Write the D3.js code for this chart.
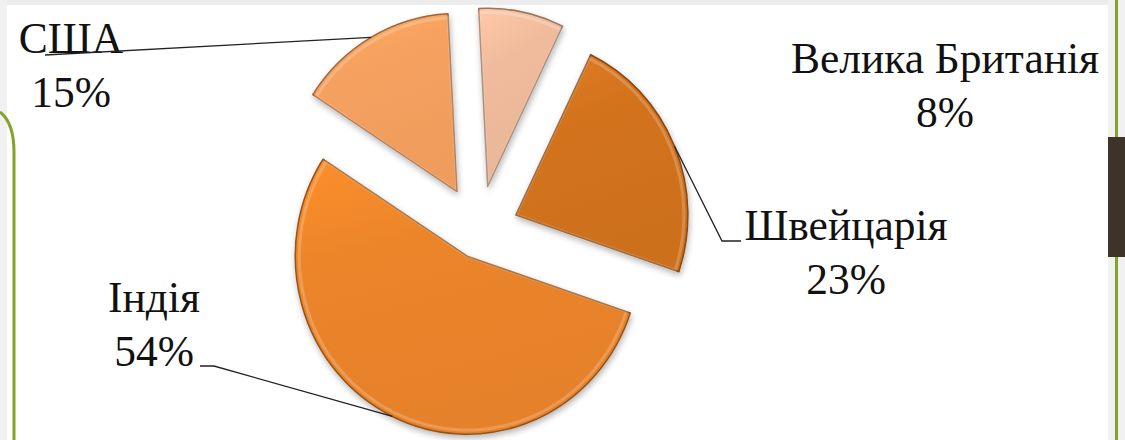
<!DOCTYPE html>
<html>
<head>
<meta charset="utf-8">
<script src="https://cdn.jsdelivr.net/npm/d3@7"></script>
<style>
  html, body { margin: 0; padding: 0; background: #fff; }
  svg { display: block; }
</style>
</head>
<body>
<div id="chart"></div>
<script>
// data
const countries = ["Велика Британія", "Швейцарія", "Індія", "США"];
const shares = [8, 23, 54, 15];
const sliceColors = ["#f0bb9c", "#d3731f", "#ec852a", "#f6a15f"];

let svgWidth = 1125;
let svgHeight = 440;

let svg = d3.select("#chart")
  .append("svg")
  .attr("width", svgWidth)
  .attr("height", svgHeight);

// slide background bits
svg.append("rect").attr("x", 0).attr("y", 0).attr("width", svgWidth).attr("height", 5).attr("fill", "#ececec");
svg.append("rect").attr("x", 0).attr("y", 0).attr("width", 7).attr("height", svgHeight).attr("fill", "#f1f1f1");
svg.append("rect").attr("x", 1108).attr("y", 0).attr("width", 17).attr("height", svgHeight).attr("fill", "#f1f1f1");
svg.append("line")
  .attr("x1", 1116.5).attr("x2", 1116.5).attr("y1", 0).attr("y2", svgHeight)
  .attr("stroke", "#86a12c").attr("stroke-width", 3);
svg.append("rect").attr("x", 1108).attr("y", 137).attr("width", 17).attr("height", 120).attr("fill", "#3d3329");
svg.append("path")
  .attr("d", "M0,112 C9,119 14,132 14,152 L14,440")
  .attr("fill", "none").attr("stroke", "#86a12c").attr("stroke-width", 3);

// defs: gradients + shadow
let defs = svg.append("defs");
let shadow = defs.append("filter").attr("id", "shadow")
  .attr("x", "-20%").attr("y", "-20%").attr("width", "140%").attr("height", "140%");
shadow.append("feGaussianBlur").attr("in", "SourceAlpha").attr("stdDeviation", 3);
shadow.append("feOffset").attr("dx", 1).attr("dy", 3).attr("result", "off");
shadow.append("feComponentTransfer").append("feFuncA").attr("type", "linear").attr("slope", 0.3);
let merge = shadow.append("feMerge");
merge.append("feMergeNode");
merge.append("feMergeNode").attr("in", "SourceGraphic");

sliceColors.forEach((c, i) => {
  let g = defs.append("linearGradient").attr("id", "grad" + i)
    .attr("x1", 0).attr("y1", 0).attr("x2", 0.3).attr("y2", 1);
  g.append("stop").attr("offset", "0%").attr("stop-color", d3.color(c).brighter(0.2));
  g.append("stop").attr("offset", "35%").attr("stop-color", c);
  g.append("stop").attr("offset", "100%").attr("stop-color", d3.color(c).darker(0.08));
});

// pie
let radius = 172;
let center = [479, 231];
let squash = 1.035;   // picture is a little taller than wide
let explode = [44, 40, 27, 44];
let startAngle = -3 * Math.PI / 180;

let pie = d3.pie().sort(null).value(d => d)
  .startAngle(startAngle).endAngle(startAngle + 2 * Math.PI);
let arcs = pie(shares);

let arc = d3.arc().innerRadius(0).outerRadius(radius);

function offset(d, i) {
  let a = (d.startAngle + d.endAngle) / 2;
  return [explode[i] * Math.sin(a), -explode[i] * Math.cos(a)];
}

let pieGroup = svg.append("g")
  .attr("transform", `translate(${center[0]}, ${center[1]}) scale(1, ${squash})`);

pieGroup.selectAll("path.slice")
  .data(arcs)
  .enter()
  .append("path")
  .attr("class", "slice")
  .attr("transform", (d, i) => `translate(${offset(d, i)})`)
  .attr("d", arc)
  .attr("fill", (d, i) => `url(#grad${i})`)
  .attr("stroke", (d, i) => d3.color(sliceColors[i]).darker(1.3))
  .attr("stroke-width", 1.5)
  .attr("stroke-linejoin", "round")
  .attr("filter", "url(#shadow)");

// inner highlight to suggest the bevel
pieGroup.selectAll("path.bevel")
  .data(arcs)
  .enter()
  .append("path")
  .attr("class", "bevel")
  .attr("transform", (d, i) => `translate(${offset(d, i)})`)
  .attr("d", d3.arc().innerRadius(0).outerRadius(radius - 4))
  .attr("fill", "none")
  .attr("stroke", "#fff")
  .attr("stroke-opacity", 0.2)
  .attr("stroke-width", 3);

// labels (position of each label block, text centre / baselines)
let labelPos = [
  { x: 945, y: 73 },
  { x: 846, y: 240 },
  { x: 154, y: 312 },
  { x: 71, y: 53 }
];
let leaderEnds = [
  null,
  [[722, 241], [741, 241]],
  [[214, 366], [200, 366]],
  [[45, 55]]
];

let labels = svg.append("g");
arcs.forEach((d, i) => {
  let t = labels.append("text")
    .attr("font-family", "Tinos, 'Liberation Serif', 'Times New Roman', serif")
    .attr("font-size", 43.5)
    .attr("fill", "#111")
    .attr("text-anchor", "middle");
  t.append("tspan").attr("x", labelPos[i].x).attr("y", labelPos[i].y).text(countries[i]);
  t.append("tspan").attr("x", labelPos[i].x).attr("y", labelPos[i].y + 54).text(d3.format(".0f")(d.data) + "%");

  if (leaderEnds[i]) {
    let a = (d.startAngle + d.endAngle) / 2;
    let off = offset(d, i);
    let start = [center[0] + off[0] + radius * Math.sin(a),
                 center[1] + (off[1] - radius * Math.cos(a)) * squash];
    labels.append("path")
      .attr("d", d3.line()([start].concat(leaderEnds[i])))
      .attr("fill", "none")
      .attr("stroke", "#222")
      .attr("stroke-width", 1.3);
  }
});
</script>
</body>
</html>
